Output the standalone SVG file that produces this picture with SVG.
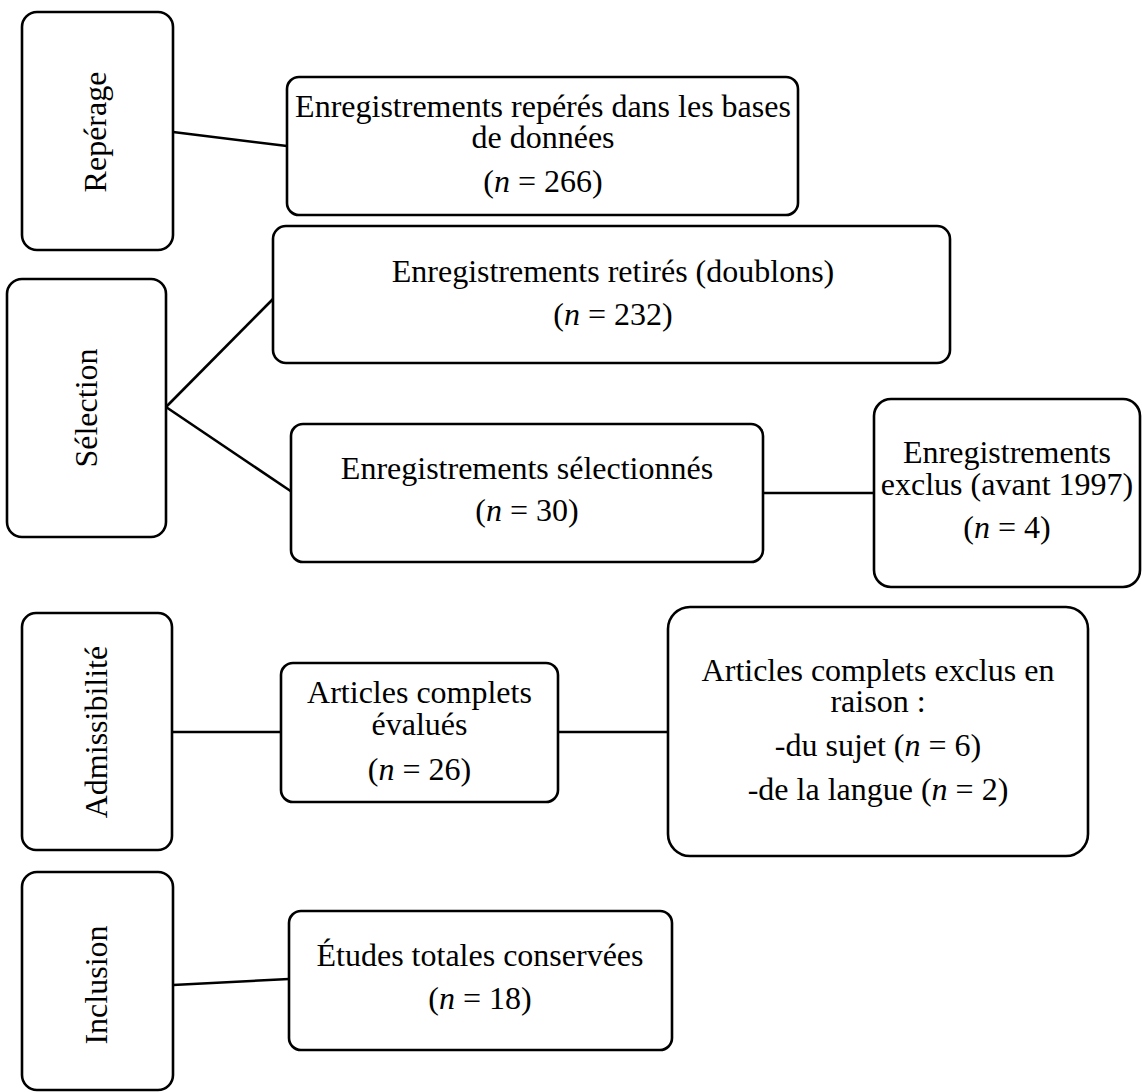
<svg xmlns="http://www.w3.org/2000/svg" width="1142" height="1092" viewBox="0 0 1142 1092">
<style>
.box{fill:#fff;stroke:#000;stroke-width:2.6}
.t{font-family:"Liberation Serif","Times New Roman",serif;font-size:32px;fill:#000;text-anchor:middle}
.i{font-style:italic}
.c line{stroke:#000;stroke-width:2.6}
</style>
<rect width="1142" height="1092" fill="#fff"/>
<g id="connectors" class="c">
<line x1="173" y1="132" x2="287" y2="146"/>
<line x1="166" y1="407" x2="274" y2="298"/>
<line x1="166" y1="407" x2="292" y2="492"/>
<line x1="763" y1="493" x2="874" y2="493"/>
<line x1="172" y1="732" x2="281" y2="732"/>
<line x1="558" y1="732" x2="668" y2="732"/>
<line x1="173" y1="985" x2="289" y2="979"/>
</g>
<g id="reperage">
<rect class="box" x="22" y="12" width="151" height="238" rx="15"/>
<text class="t" x="106" y="132" transform="rotate(-90 106 132)">Repérage</text>
</g>
<g id="enreg-reperes">
<rect class="box" x="287" y="77" width="511" height="138" rx="12"/>
<text class="t" x="543" y="117">Enregistrements repérés dans les bases</text>
<text class="t" x="543" y="148">de données</text>
<text class="t" x="543" y="192">(<tspan class="i">n</tspan> = 266)</text>
</g>
<g id="selection">
<rect class="box" x="7" y="279" width="159" height="258" rx="15"/>
<text class="t" x="97" y="408" transform="rotate(-90 97 408)">Sélection</text>
</g>
<g id="enreg-retires">
<rect class="box" x="273" y="226" width="677" height="137" rx="13"/>
<text class="t" x="613" y="282">Enregistrements retirés (doublons)</text>
<text class="t" x="613" y="325">(<tspan class="i">n</tspan> = 232)</text>
</g>
<g id="enreg-selectionnes">
<rect class="box" x="291" y="424" width="472" height="138" rx="12"/>
<text class="t" x="527" y="479">Enregistrements sélectionnés</text>
<text class="t" x="527" y="521">(<tspan class="i">n</tspan> = 30)</text>
</g>
<g id="enreg-exclus">
<rect class="box" x="874" y="399" width="266" height="188" rx="17"/>
<text class="t" x="1007" y="463">Enregistrements</text>
<text class="t" x="1007" y="495">exclus (avant 1997)</text>
<text class="t" x="1007" y="538">(<tspan class="i">n</tspan> = 4)</text>
</g>
<g id="admissibilite">
<rect class="box" x="22" y="613" width="150" height="237" rx="14"/>
<text class="t" x="107" y="732" transform="rotate(-90 107 732)">Admissibilité</text>
</g>
<g id="articles-evalues">
<rect class="box" x="281" y="663" width="277" height="139" rx="12"/>
<text class="t" x="419.5" y="703">Articles complets</text>
<text class="t" x="419.5" y="735">évalués</text>
<text class="t" x="419.5" y="780">(<tspan class="i">n</tspan> = 26)</text>
</g>
<g id="articles-exclus">
<rect class="box" x="668" y="607" width="420" height="249" rx="22"/>
<text class="t" x="878" y="681">Articles complets exclus en</text>
<text class="t" x="878" y="712">raison :</text>
<text class="t" x="878" y="756">-du sujet (<tspan class="i">n</tspan> = 6)</text>
<text class="t" x="878" y="800">-de la langue (<tspan class="i">n</tspan> = 2)</text>
</g>
<g id="inclusion">
<rect class="box" x="22" y="872" width="151" height="218" rx="15"/>
<text class="t" x="107" y="985" transform="rotate(-90 107 985)">Inclusion</text>
</g>
<g id="etudes">
<rect class="box" x="289" y="911" width="383" height="139" rx="12"/>
<text class="t" x="480" y="966">Études totales conservées</text>
<text class="t" x="480" y="1009">(<tspan class="i">n</tspan> = 18)</text>
</g>
</svg>
